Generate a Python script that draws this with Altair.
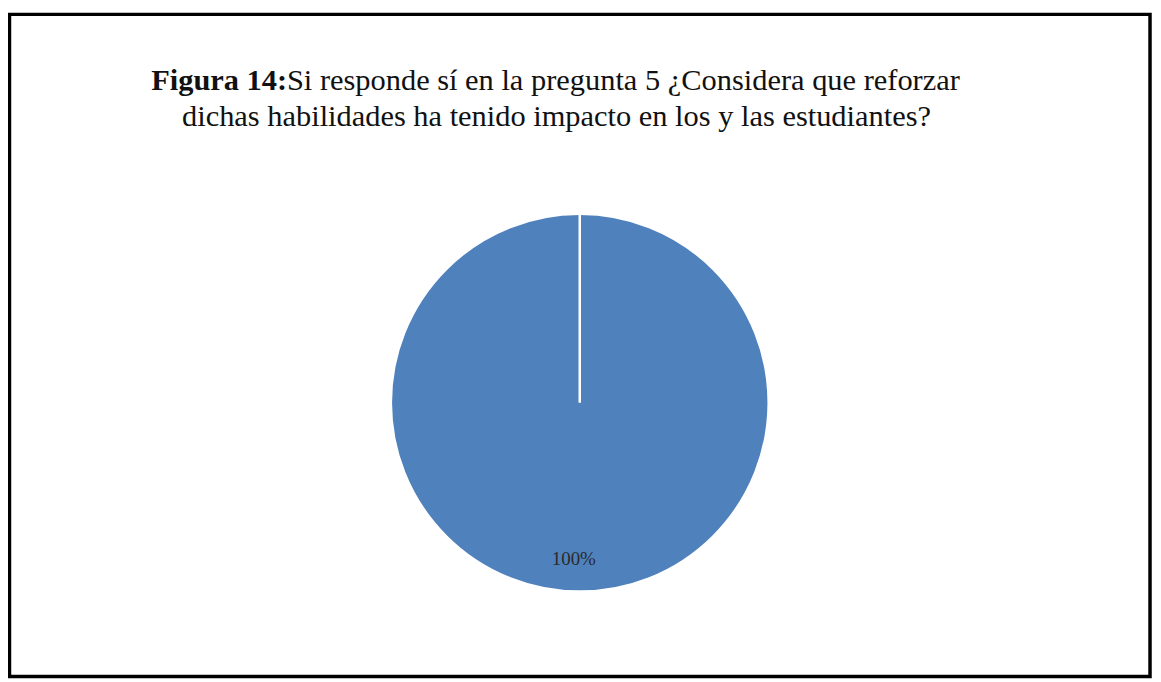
import altair as alt
import pandas as pd

# ---- data ----
categories = ["Sí", "No"]
values = [100, 0]
labels = ["100%", "0%"]
colors = ["#4F81BD", "#C0504D"]

title_bold = "Figura 14:"
title_rest = "Si responde sí en la pregunta 5 ¿Considera que reforzar"
title_line2 = "dichas habilidades ha tenido impacto en los y las estudiantes?"

df = pd.DataFrame({"categoria": categories, "valor": values, "etiqueta": labels})

CX, CY, R = 573.5, 390.5, 190

base = alt.Chart(df)

pie = base.mark_arc(radius=R, stroke="white", strokeWidth=2.5).encode(
    theta=alt.Theta("valor:Q", stack=True),
    color=alt.Color("categoria:N", scale=alt.Scale(domain=categories, range=colors), legend=None),
    order=alt.Order("order_idx:Q"),
    x=alt.value(CX),
    y=alt.value(CY),
).transform_calculate(order_idx="datum.categoria == 'Sí' ? 0 : 1")

lab = base.mark_text(radius=157, font="Liberation Serif", fontSize=19, color="#2a2a2a").encode(
    theta=alt.Theta("valor:Q", stack=True),
    text="etiqueta:N",
    order=alt.Order("order_idx:Q"),
    x=alt.value(CX - 6),
    y=alt.value(CY),
).transform_calculate(order_idx="datum.categoria == 'Sí' ? 0 : 1").transform_filter("datum.valor > 0")

def txt(s, x, y, bold=False, align="left"):
    return alt.Chart(alt.Data(values=[{"t": s}])).mark_text(
        font="Liberation Serif", fontSize=30.6, fontWeight="bold" if bold else "normal",
        align=align, baseline="alphabetic", color="#111111",
    ).encode(text="t:N", x=alt.value(x), y=alt.value(y))

t1 = txt(title_bold, 142.5, 76)
t1 = txt(title_bold, 142.5, 76, bold=True)
t2 = txt(title_rest, 279, 76)
t3 = txt(title_line2, 173.5, 112)

chart = alt.layer(pie, lab, t1, t2, t3).properties(
    width=1147, height=666,
    padding={"left": 1.5, "top": 4.5, "right": 3, "bottom": 2},
    autosize=alt.AutoSizeParams(type="none"),
    background="white",
).configure_view(stroke="#000000", strokeWidth=3.5)

chart.save("out.html", embed_options={"renderer": "svg", "actions": False})
